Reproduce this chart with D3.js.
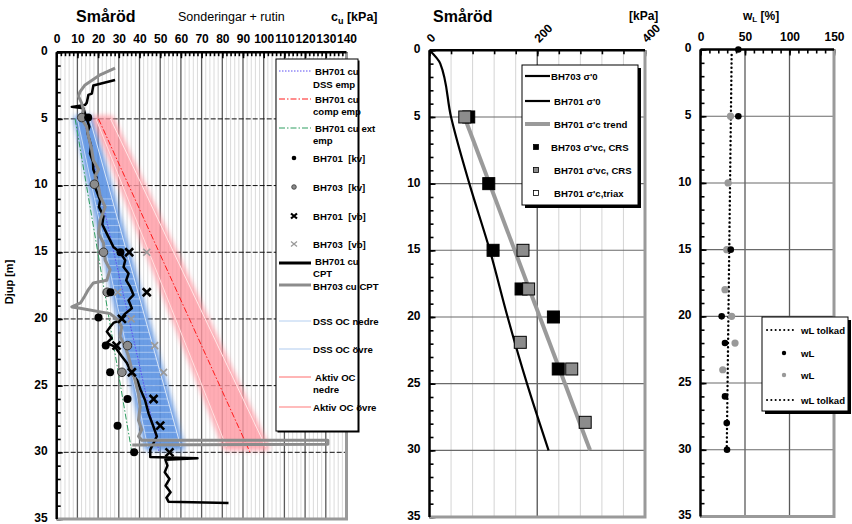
<!DOCTYPE html>
<html lang="en">
<head>
<meta charset="UTF-8">
<title>Småröd</title>
<script src="https://cdn.jsdelivr.net/npm/d3@7"></script>
<style>
  body { margin: 0; background: #fff; }
  svg { display: block; font-family: "Liberation Sans", Arial, sans-serif; }
  .tick text { font-weight: bold; font-size: 12px; fill: #000; }
  .lg { font-size: 9.6px; font-weight: bold; fill: #000; }
</style>
</head>
<body>
<svg id="chart" width="852" height="524"></svg>
<script>
  // ---------- data: left panel, cu [kPa] vs depth [m] ----------
  const cptBH701 = [[28.2,2.08],[17.7,2.5],[17,3.1],[15.3,3.2],[14.5,3.8],[13.7,3.95],[7.3,4.1],[12.9,4.2],[13.7,4.6],
    [14.5,5],[15.8,5.6],[14.8,6.0],[15.3,6.3],[16.6,7.0],[16.1,7.6],[17.5,8.2],[17.7,8.8],[19.2,9.4],[18.5,10.1],
    [21,11.1],[20.4,11.6],[22.6,12.3],[22,12.9],[24.2,13.6],[27.4,14.6],[30.6,15],[33.1,15.6],[32.3,16.1],[34.7,16.6],
    [33.6,17.1],[35.5,17.6],[37.1,18.2],[34.7,18.6],[36.3,19.2],[33.1,19.6],[30.6,20.1],[27.4,20.3],[25.8,20.6],
    [24.2,20.95],[26.6,21.45],[24.2,21.8],[28.2,22.1],[31.4,22.8],[33.9,23.3],[36.3,24.1],[38.9,24.6],[40.5,25.3],
    [42.7,26.1],[44.4,27.1],[46.8,28.1],[48.4,28.8],[46.8,29.3],[45.2,29.8],[45.2,30.35],[68,30.45],[52.5,30.55],
    [53.5,31.0],[52.2,31.5],[54.5,32.0],[52.6,32.5],[55,33.0],[53,33.4],[54,33.7],[83,33.8]];
  const cptBH703 = [[28.2,1.2],[21,1.7],[13.7,2.45],[11.3,2.95],[10.5,3.3],[12,3.8],[12.9,4.3],[12,5],[14.5,5.6],
    [15.3,6.3],[16.9,7.3],[17.7,8.1],[20.2,8.8],[18.5,9.3],[20.2,10.1],[21,10.8],[23.4,11.6],[21,12.6],[20.2,13.6],
    [22.6,14.3],[23.4,15.6],[25.8,16.3],[24.2,17.1],[17.7,17.3],[15.3,17.8],[13.5,18.3],[11.5,18.8],[7.3,19.1],
    [11.3,19.2],[25.8,19.6],[29.8,20.1],[31.4,20.6],[30.6,21.3],[33.1,22.1],[34.7,22.8],[36.3,23.8],[37.9,24.6],
    [39.5,25.6],[40.3,26.6],[39.5,27.6],[41.1,28.3],[39.5,28.8],[41.1,29.1],[131,29.1],[131,29.4],[36.5,29.45]];
  const kvBH701 = [[15.2,4.9],[30.8,15],[26,18],[20.2,19.9],[23.7,22],[25.8,24],[34.2,26],[29.4,28],[37.4,30]];
  const kvBH703 = [[12.1,4.9],[18.2,9.9],[22.6,15],[24.4,18],[34.2,22],[31.5,24]];
  const vbBH701 = [[35,15],[43.5,18],[31.5,20],[28.9,22],[36.3,24],[46.8,26],[50,28],[54.5,30]];
  const vbBH703 = [[43.5,15],[29.5,18],[36,20],[47.3,22],[51.6,24]];
  const cuDssEmp  = [[13,5],[49.5,30]];
  const cuCompEmp = [[20.2,5],[93.4,30]];
  const cuExtEmp  = [[8.9,5],[36.3,30]];
  const dssNedre   = [[10,5],[44,29.6]];
  const dssOvre    = [[16,5],[60,29.6]];
  const aktivNedre = [[19,5],[82,29.6]];
  const aktivOvre  = [[26,5],[101,29.6]];
  const cuTicks = [0,10,20,30,40,50,60,70,80,90,100,110,120,130,140];
  const depthTicks = [0,5,10,15,20,25,30,35];

  // ---------- data: middle panel, stress [kPa] vs depth ----------
  const sigma0 = [[0,0],[20,1],[40,5],[74,10],[112,15],[145,20],[181,25],[221,30]];
  const sigmaCTrend = [[63,4.8],[298,30]];
  const crsBH703 = [[72.8,5],[110,10],[118,15],[170,17.9],[230,20],[239,23.9]];
  const crsBH701 = [[65.5,5],[173.5,15],[184,17.9],[168.5,21.9],[264,23.9],[289,27.9]];
  const kPaTicks = [0,200,400];

  // ---------- data: right panel, wL [%] vs depth ----------
  const wLTolkad = [[35,0.4],[29.5,30]];
  const wLBH701 = [[42.5,0],[42.5,5],[34,15],[23.8,20],[27.5,22],[27.5,26],[29.5,28],[29.8,30]];
  const wLBH703 = [[33.7,5],[31,10],[29.5,15],[27.5,18],[35,20],[38.8,22],[25,24]];
  const wLTicks = [0,50,100,150];

  const svg = d3.select("#chart");
  const defs = svg.append("defs");
  defs.append("filter").attr("id", "blur").attr("x", "-20%").attr("y", "-20%").attr("width", "140%").attr("height", "140%")
    .append("feGaussianBlur").attr("stdDeviation", 2.6);

  // scales
  const xL = d3.scaleLinear().domain([0, 140]).range([56.7, 346.5]);
  const yL = d3.scaleLinear().domain([0, 35]).range([52.2, 519]);
  const xM = d3.scaleLinear().domain([0, 400]).range([429.5, 645]);
  const yM = d3.scaleLinear().domain([0, 35]).range([50.3, 517]);
  const xR = d3.scaleLinear().domain([0, 150]).range([700.5, 834]);
  const yR = d3.scaleLinear().domain([0, 35]).range([49.5, 516.5]);

  function gridV(g, xs, y, vals, color, w) {
    g.selectAll(null).data(vals).join("line")
      .attr("x1", d => xs(d)).attr("x2", d => xs(d))
      .attr("y1", y.range()[0]).attr("y2", y.range()[1])
      .attr("stroke", color).attr("stroke-width", w);
  }
  function gridH(g, xs, y, vals, color, w, dash) {
    g.selectAll(null).data(vals).join("line")
      .attr("x1", xs.range()[0]).attr("x2", xs.range()[1])
      .attr("y1", d => y(d)).attr("y2", d => y(d))
      .attr("stroke", color).attr("stroke-width", w)
      .attr("stroke-dasharray", dash || null);
  }
  function frame(g, xs, y) {
    const [x0, x1] = xs.range(), [y0, y1] = y.range();
    g.append("path").attr("d", `M${x1},${y0}V${y1}H${x0}`)
      .attr("fill", "none").attr("stroke", "#9a9a9a").attr("stroke-width", 3);
    g.append("line").attr("x1", x0).attr("x2", x0).attr("y1", y0).attr("y2", y1)
      .attr("stroke", "#000").attr("stroke-width", 2.5);
    g.append("line").attr("x1", x0).attr("x2", x1).attr("y1", y0).attr("y2", y0)
      .attr("stroke", "#000").attr("stroke-width", 2.5);
  }
  function axes(g, xs, y, xMajor, xMinor, yMinor) {
    const [x0] = xs.range(), [y0] = y.range();
    // minor ticks (inside)
    g.append("g").attr("transform", `translate(0,${y0})`)
      .call(d3.axisTop(xs).tickValues(xMinor).tickSize(-4).tickFormat(""))
      .call(a => a.select(".domain").remove());
    g.append("g").attr("transform", `translate(${x0},0)`)
      .call(d3.axisLeft(y).tickValues(yMinor).tickSize(-4).tickFormat(""))
      .call(a => a.select(".domain").remove());
    // labelled
    const ax = g.append("g").attr("transform", `translate(0,${y0})`)
      .call(d3.axisTop(xs).tickValues(xMajor).tickSize(-6).tickPadding(9))
      .call(a => a.select(".domain").remove());
    g.append("g").attr("transform", `translate(${x0},0)`)
      .call(d3.axisLeft(y).tickValues(depthTicks).tickSize(-6).tickPadding(9))
      .call(a => a.select(".domain").remove())
      .call(a => a.selectAll("text").attr("dy", "0.2em"));
    g.selectAll(".tick line").attr("stroke", "#000").attr("stroke-width", 1.6);
    return ax;
  }
  const pts = (xs, y) => d3.line().x(d => xs(d[0])).y(d => y(d[1]));

  // ================= LEFT PANEL =================
  const gL = svg.append("g");
  gridV(gL, xL, yL, d3.range(2, 140, 2).filter(v => v % 10), "#d2d2d2", 0.8);
  gridV(gL, xL, yL, d3.range(10, 140, 10), "#5a5a5a", 1.3);
  gridH(gL, xL, yL, [5, 10, 15, 20, 25, 30], "#111", 1, "5,2");

  // bands (blurred wide lines)
  function band(nedre, ovre, color, op) {
    const poly = nedre.concat(ovre.slice().reverse());
    gL.append("path").attr("d", pts(xL, yL)(poly) + "Z")
      .attr("fill", color).attr("stroke", color).attr("stroke-width", 7)
      .attr("stroke-linejoin", "round").attr("opacity", op).attr("filter", "url(#blur)");
    return poly;
  }
  const bluePoly = band(dssNedre, dssOvre, "#5c93e3", 0.9);
  band(aktivNedre, aktivOvre, "#ff98a2", 0.8);
  // light horizontal striping in the DSS band
  defs.append("clipPath").attr("id", "bclip").append("path").attr("d", pts(xL, yL)(bluePoly) + "Z");
  const lerp = (l, d) => l[0][0] + (l[1][0] - l[0][0]) * (d - l[0][1]) / (l[1][1] - l[0][1]);
  gL.append("g").attr("clip-path", "url(#bclip)").selectAll("line").data(d3.range(11, 29.5, 0.5)).join("line")
    .attr("x1", d => xL(lerp(dssNedre, d)) - 4).attr("x2", d => xL(lerp(dssOvre, d)) + 4)
    .attr("y1", d => yL(d)).attr("y2", d => yL(d))
    .attr("stroke", "#d8e6fa").attr("stroke-width", 1).attr("opacity", 0.55);
  // thin band boundary lines
  [[dssNedre, "#c4d9f5"], [dssOvre, "#d7e5f8"], [aktivNedre, "#ffdede"], [aktivOvre, "#ffe6e6"]].forEach(([l, c]) => {
    gL.append("path").attr("d", pts(xL, yL)(l)).attr("stroke", c).attr("stroke-width", 1).attr("fill", "none");
  });

  // empirical lines
  gL.append("path").attr("d", pts(xL, yL)(cuExtEmp)).attr("fill", "none")
    .attr("stroke", "#2e9e60").attr("stroke-width", 1).attr("stroke-dasharray", "6,2,1.5,2");
  gL.append("path").attr("d", pts(xL, yL)(cuCompEmp)).attr("fill", "none")
    .attr("stroke", "#ff1a1a").attr("stroke-width", 1).attr("stroke-dasharray", "6,2,1.5,2");
  gL.append("path").attr("d", pts(xL, yL)(cuDssEmp)).attr("fill", "none")
    .attr("stroke", "#5a4cf2").attr("stroke-width", 1).attr("stroke-dasharray", "1.5,1.5");

  // CPT soundings
  gL.append("path").attr("d", pts(xL, yL)(cptBH701)).attr("fill", "none")
    .attr("stroke", "#000").attr("stroke-width", 2.5).attr("stroke-linejoin", "round");
  gL.append("path").attr("d", pts(xL, yL)(cptBH703)).attr("fill", "none")
    .attr("stroke", "#8c8c8c").attr("stroke-width", 3).attr("stroke-linejoin", "round");

  // markers
  const cross = (g, data, xs, y, color, s, w) => g.selectAll(null).data(data).join("path")
    .attr("d", d => { const x = xs(d[0]), yy = y(d[1]); return `M${x-s},${yy-s}L${x+s},${yy+s}M${x-s},${yy+s}L${x+s},${yy-s}`; })
    .attr("stroke", color).attr("stroke-width", w);
  gL.selectAll(null).data(kvBH703).join("circle")
    .attr("cx", d => xL(d[0])).attr("cy", d => yL(d[1])).attr("r", 4.3)
    .attr("fill", "#8c8c8c").attr("stroke", "#333").attr("stroke-width", 1);
  gL.selectAll(null).data(kvBH701).join("circle")
    .attr("cx", d => xL(d[0])).attr("cy", d => yL(d[1])).attr("r", 4).attr("fill", "#000");
  cross(gL, vbBH703, xL, yL, "#9a9a9a", 3.5, 1.7);
  cross(gL, vbBH701, xL, yL, "#000", 4, 2.6);

  axes(gL, xL, yL, cuTicks, d3.range(0, 141, 2), d3.range(0, 36, 1));
  frame(gL, xL, yL);

  svg.append("text").attr("x", 76).attr("y", 22).attr("font-size", 16).attr("font-weight", "bold").text("Småröd");
  svg.append("text").attr("x", 178).attr("y", 21).attr("font-size", 12.5).text("Sonderingar + rutin");
  const cuT = svg.append("text").attr("x", 331).attr("y", 21).attr("font-size", 12.5).attr("font-weight", "bold");
  cuT.append("tspan").text("c");
  cuT.append("tspan").attr("font-size", 9).attr("dy", 3).text("u");
  cuT.append("tspan").attr("dy", -3).text(" [kPa]");
  svg.append("text").attr("transform", "translate(13,282) rotate(-90)").attr("text-anchor", "middle")
    .attr("font-size", 11).attr("font-weight", "bold").text("Djup [m]");

  // left legend
  const lgL = svg.append("g");
  lgL.append("rect").attr("x", 277.5).attr("y", 60.5).attr("width", 82).attr("height", 372).attr("fill", "#000");
  lgL.append("rect").attr("x", 276).attr("y", 59).attr("width", 82).attr("height", 372)
    .attr("fill", "#fff").attr("stroke", "#000").attr("stroke-width", 1);
  const legendLeft = [
    { y: 71, kind: "line", c: "#5a4cf2", w: 1, dash: "1.5,1.5", t: ["BH701 cu", "DSS emp"], ty: [71, 84] },
    { y: 99, kind: "line", c: "#ff1a1a", w: 1, dash: "6,2,1.5,2", t: ["BH701 cu", "comp emp"], ty: [99, 111] },
    { y: 128, kind: "line", c: "#2e9e60", w: 1, dash: "6,2,1.5,2", t: ["BH701 cu ext", "emp"], ty: [128, 140] },
    { y: 158, kind: "dot", c: "#000", t: ["BH701  [kv]"], ty: [158] },
    { y: 187, kind: "gdot", c: "#8c8c8c", t: ["BH703  [kv]"], ty: [187] },
    { y: 216, kind: "x", c: "#000", t: ["BH701  [vb]"], ty: [216] },
    { y: 244, kind: "gx", c: "#9a9a9a", t: ["BH703  [vb]"], ty: [244] },
    { y: 263, kind: "line", c: "#000", w: 3, t: ["BH701 cu", "CPT"], ty: [261.5, 273] },
    { y: 285, kind: "line", c: "#8c8c8c", w: 3, t: ["BH703 cu CPT"], ty: [286.5] },
    { y: 321, kind: "line", c: "#b4cff0", w: 1, t: ["DSS OC nedre"], ty: [321] },
    { y: 349, kind: "line", c: "#cadcf4", w: 1.5, t: ["DSS OC övre"], ty: [349] },
    { y: 377, kind: "line", c: "#ff6c6c", w: 1, t: ["Aktiv OC", "nedre"], ty: [377, 389] },
    { y: 407, kind: "line", c: "#ffa6a6", w: 1.5, t: ["Aktiv OC övre"], ty: [407] }
  ];
  legendLeft.forEach(e => {
    if (e.kind === "line") lgL.append("line").attr("x1", 279).attr("x2", 311).attr("y1", e.y).attr("y2", e.y)
      .attr("stroke", e.c).attr("stroke-width", e.w).attr("stroke-dasharray", e.dash || null);
    if (e.kind === "dot") lgL.append("circle").attr("cx", 294).attr("cy", e.y).attr("r", 2.3).attr("fill", "#000");
    if (e.kind === "gdot") lgL.append("circle").attr("cx", 294).attr("cy", e.y).attr("r", 2.3)
      .attr("fill", "#8c8c8c").attr("stroke", "#333").attr("stroke-width", 0.8);
    if (e.kind === "x" || e.kind === "gx") lgL.append("path")
      .attr("d", `M291,${e.y-2.5}L297,${e.y+2.5}M291,${e.y+2.5}L297,${e.y-2.5}`)
      .attr("stroke", e.c).attr("stroke-width", e.kind === "x" ? 2.2 : 1.3);
    e.t.forEach((s, i) => lgL.append("text").attr("class", "lg")
      .attr("x", i === 0 && e.t.length > 1 ? 315 : 313).attr("y", e.ty[i] + 3.5)
      .attr("xml:space", "preserve").text(s));
  });

  // ================= MIDDLE PANEL =================
  const gM = svg.append("g");
  gridV(gM, xM, yM, d3.range(40, 400, 40), "#cfcfcf", 0.9);
  gridV(gM, xM, yM, [200], "#5a5a5a", 1.3);
  gridH(gM, xM, yM, [5, 10, 15, 20, 25, 30], "#6a6a6a", 1.1);
  gM.append("path").attr("d", pts(xM, yM)(sigmaCTrend)).attr("fill", "none")
    .attr("stroke", "#9a9a9a").attr("stroke-width", 4);
  gM.append("path").attr("d", pts(xM, yM).curve(d3.curveMonotoneY)(sigma0)).attr("fill", "none")
    .attr("stroke", "#000").attr("stroke-width", 2.2);
  const sq = 12;
  gM.selectAll(null).data(crsBH703).join("rect")
    .attr("x", d => xM(d[0]) - sq / 2).attr("y", d => yM(d[1]) - sq / 2).attr("width", sq).attr("height", sq)
    .attr("fill", "#000").attr("stroke", "#000");
  gM.selectAll(null).data(crsBH701).join("rect")
    .attr("x", d => xM(d[0]) - sq / 2).attr("y", d => yM(d[1]) - sq / 2).attr("width", sq).attr("height", sq)
    .attr("fill", "#8c8c8c").attr("stroke", "#000").attr("stroke-width", 1);
  const axM = axes(gM, xM, yM, kPaTicks, d3.range(0, 401, 40), d3.range(0, 36, 1));
  axM.selectAll("text").attr("text-anchor", "start").attr("x", 6).attr("y", -4).attr("dy", 0)
    .attr("transform", "rotate(-45)");
  frame(gM, xM, yM);
  svg.append("text").attr("x", 433).attr("y", 22).attr("font-size", 16).attr("font-weight", "bold").text("Småröd");
  svg.append("text").attr("x", 629).attr("y", 20).attr("font-size", 12).attr("font-weight", "bold").text("[kPa]");

  // middle legend
  const lgM = svg.append("g");
  lgM.append("rect").attr("x", 525).attr("y", 68).attr("width", 116).attr("height", 140).attr("fill", "#000");
  lgM.append("rect").attr("x", 522).attr("y", 65).attr("width", 116).attr("height", 140)
    .attr("fill", "#fff").attr("stroke", "#000").attr("stroke-width", 1);
  const legendMid = [
    { y: 76, kind: "line", c: "#000", w: 2.2, x: 551, t: "BH703 σ'0" },
    { y: 101, kind: "line", c: "#000", w: 2.2, x: 554, t: "BH701 σ'0" },
    { y: 124, kind: "line", c: "#9a9a9a", w: 4, x: 554, t: "BH701 σ'c trend" },
    { y: 147, kind: "sq", c: "#000", x: 551, t: "BH703 σ'vc, CRS" },
    { y: 170, kind: "sq", c: "#8c8c8c", x: 554, t: "BH701 σ'vc, CRS" },
    { y: 193, kind: "sq", c: "#fff", x: 554, t: "BH701 σ'c,triax" }
  ];
  legendMid.forEach(e => {
    if (e.kind === "line") lgM.append("line").attr("x1", 525).attr("x2", 550).attr("y1", e.y).attr("y2", e.y)
      .attr("stroke", e.c).attr("stroke-width", e.w);
    else lgM.append("rect").attr("x", 533.5).attr("y", e.y - 2.5).attr("width", 5).attr("height", 5)
      .attr("fill", e.c).attr("stroke", "#000").attr("stroke-width", 0.8);
    lgM.append("text").attr("class", "lg").attr("x", e.x).attr("y", e.y + 4).text(e.t);
  });

  // ================= RIGHT PANEL =================
  const gR = svg.append("g");
  gridV(gR, xR, yR, [50, 100], "#5a5a5a", 1.3);
  gridH(gR, xR, yR, [5, 10, 15, 20, 25, 30], "#6a6a6a", 1.1);
  gR.append("path").attr("d", pts(xR, yR)(wLTolkad)).attr("fill", "none")
    .attr("stroke", "#000").attr("stroke-width", 2.4).attr("stroke-linecap", "round").attr("stroke-dasharray", "0.1,4.2");
  gR.selectAll(null).data(wLBH703).join("circle")
    .attr("cx", d => xR(d[0])).attr("cy", d => yR(d[1])).attr("r", 3.6).attr("fill", "#999");
  gR.selectAll(null).data(wLBH701).join("circle")
    .attr("cx", d => xR(d[0])).attr("cy", d => yR(d[1])).attr("r", 3.3).attr("fill", "#000");
  axes(gR, xR, yR, wLTicks, d3.range(0, 151, 10), d3.range(0, 36, 1));
  frame(gR, xR, yR);
  const wT = svg.append("text").attr("x", 743).attr("y", 20).attr("font-size", 12).attr("font-weight", "bold");
  wT.append("tspan").text("w");
  wT.append("tspan").attr("font-size", 8).attr("dy", 2).text("L");
  wT.append("tspan").attr("dy", -2).text(" [%]");

  // right legend
  const lgR = svg.append("g");
  lgR.append("rect").attr("x", 765).attr("y", 320).attr("width", 86).attr("height", 94).attr("fill", "#000");
  lgR.append("rect").attr("x", 762).attr("y", 317).attr("width", 86).attr("height", 94)
    .attr("fill", "#fff").attr("stroke", "#000").attr("stroke-width", 1);
  const legendRight = [
    { y: 330, kind: "dots", t: "wL tolkad" },
    { y: 353, kind: "dot", c: "#000", t: "wL" },
    { y: 375, kind: "dot", c: "#999", t: "wL" },
    { y: 400, kind: "dots", t: "wL tolkad" }
  ];
  legendRight.forEach(e => {
    if (e.kind === "dots") lgR.append("line").attr("x1", 767).attr("x2", 797).attr("y1", e.y).attr("y2", e.y)
      .attr("stroke", "#000").attr("stroke-width", 2).attr("stroke-linecap", "round").attr("stroke-dasharray", "0.1,4.2");
    else lgR.append("circle").attr("cx", 784).attr("cy", e.y).attr("r", 2.2).attr("fill", e.c);
    lgR.append("text").attr("class", "lg").attr("x", 801).attr("y", e.y + 4).text(e.t);
  });
</script>
</body>
</html>
